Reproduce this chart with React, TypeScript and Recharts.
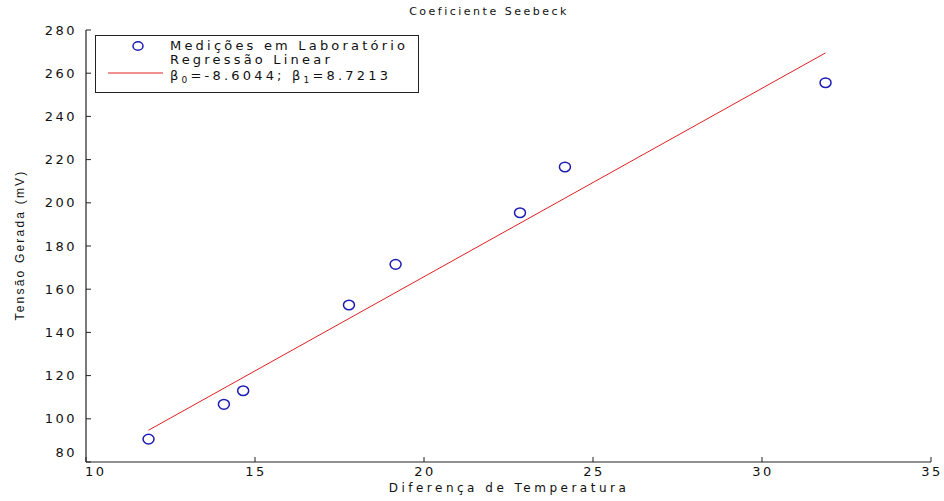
import React from 'react';
import { ScatterChart, Scatter, XAxis, YAxis } from 'recharts';

// dados
const tempDiff = [11.85, 14.08, 14.65, 17.78, 19.16, 22.84, 24.17, 31.88];
const tensao = [90.6, 106.7, 113.0, 152.7, 171.5, 195.4, 216.6, 255.6];
const fitX = [11.85, 31.88];
const fitY = [94.7, 269.4];
const xTicks = [10, 15, 20, 25, 30, 35];
const yTicks = [80, 100, 120, 140, 160, 180, 200, 220, 240, 260, 280];

const medicoes = tempDiff.map((x, i) => ({ x, y: tensao[i] }));
const regressao = fitX.map((x, i) => ({ x, y: fitY[i] }));

const FONT = '"DejaVu Sans", Arial, sans-serif';
const AXIS = '#222';
const BLUE = '#1c1cb4';
const RED = '#e02020';

const XTick = (props: any) => {
    const { x, y, payload, index } = props;
    return (
        <g>
            <line x1={x} y1={y} x2={x} y2={y - 5} stroke={AXIS} strokeWidth={1} />
            <text
                x={index === 0 ? x - 1 : x + 1}
                y={y + 4}
                textAnchor={index === 0 ? 'start' : 'middle'}
                dominantBaseline="hanging"
                fontSize={13}
                fontFamily={FONT}
                letterSpacing={2.5}
                fill="#111"
            >
                {payload.value}
            </text>
        </g>
    );
};

const YTick = (props: any) => {
    const { x, y, payload, index } = props;
    return (
        <g>
            <line x1={x} y1={y} x2={x + 5} y2={y} stroke={AXIS} strokeWidth={1} />
            <text
                x={x - 9}
                y={index === 0 ? y - 10 : y}
                textAnchor="end"
                dominantBaseline="central"
                fontSize={13}
                fontFamily={FONT}
                letterSpacing={2.5}
                fill="#111"
            >
                {payload.value}
            </text>
        </g>
    );
};

const Marker = (props: any) => (
    <ellipse cx={props.cx} cy={props.cy} rx={5.5} ry={4.8} fill="none" stroke={BLUE} strokeWidth={1.5} />
);

const NoMarker = () => <g />;

const LegendBox = () => (
    <div
        style={{
            position: 'absolute',
            left: 95,
            top: 35,
            width: 322,
            height: 56,
            border: `1px solid ${AXIS}`,
            background: '#fff',
            fontFamily: FONT,
            fontSize: 13,
            letterSpacing: 3.2,
            color: '#111',
        }}
    >
        <svg width={80} height={56} style={{ position: 'absolute', left: 0, top: 0 }}>
            <ellipse cx={42} cy={10} rx={5} ry={4.3} fill="none" stroke={BLUE} strokeWidth={1.5} />
            <line x1={12} y1={37} x2={67} y2={37} stroke={RED} strokeWidth={1} />
        </svg>
        <div style={{ position: 'absolute', left: 74, top: 2, lineHeight: '15px' }}>Medições em Laboratório</div>
        <div style={{ position: 'absolute', left: 74, top: 17, lineHeight: '14px' }}>Regressão Linear</div>
        <div style={{ position: 'absolute', left: 74, top: 33, lineHeight: '14px' }}>
            β<sub style={{ fontSize: 9, verticalAlign: '-3px' }}>0</sub>=-8.6044; β
            <sub style={{ fontSize: 9, verticalAlign: '-3px' }}>1</sub>=8.7213
        </div>
    </div>
);

export default function App() {
    return (
        <div style={{ position: 'absolute', left: 0, top: 0, width: 944, height: 501, background: '#fff' }}>
            <ScatterChart width={944} height={501} margin={{ top: 30, right: 13, bottom: 0, left: 0 }}>
                <XAxis
                    type="number"
                    dataKey="x"
                    domain={[10, 35]}
                    ticks={xTicks}
                    height={39}
                    tickSize={0}
                    tickMargin={0}
                    tickLine={false}
                    axisLine={{ stroke: AXIS, strokeWidth: 1.2 }}
                    tick={<XTick />}
                    allowDataOverflow
                />
                <YAxis
                    type="number"
                    dataKey="y"
                    domain={[80, 280]}
                    ticks={yTicks}
                    width={86}
                    tickSize={0}
                    tickMargin={0}
                    tickLine={false}
                    axisLine={{ stroke: AXIS, strokeWidth: 1.2 }}
                    tick={<YTick />}
                    allowDataOverflow
                />
                <Scatter
                    name="Regressão Linear"
                    data={regressao}
                    line={{ stroke: RED, strokeWidth: 1 }}
                    shape={<NoMarker />}
                    isAnimationActive={false}
                />
                <Scatter
                    name="Medições em Laboratório"
                    data={medicoes}
                    shape={<Marker />}
                    isAnimationActive={false}
                />
            </ScatterChart>
            <LegendBox />
            <div
                style={{
                    position: 'absolute',
                    left: 0,
                    width: 978,
                    top: 5,
                    textAlign: 'center',
                    fontFamily: FONT,
                    fontSize: 11,
                    letterSpacing: 2.5,
                    color: '#111',
                }}
            >
                Coeficiente Seebeck
            </div>
            <div
                style={{
                    position: 'absolute',
                    left: 0,
                    width: 1018,
                    top: 481,
                    textAlign: 'center',
                    fontFamily: FONT,
                    fontSize: 12,
                    letterSpacing: 3.5,
                    color: '#111',
                }}
            >
                Diferença de Temperatura
            </div>
            <div
                style={{
                    position: 'absolute',
                    left: 20,
                    top: 245,
                    transform: 'translate(-50%, -50%) rotate(-90deg)',
                    whiteSpace: 'nowrap',
                    fontFamily: '"Liberation Sans", Arial, sans-serif',
                    fontSize: 12,
                    letterSpacing: 2.2,
                    color: '#111',
                }}
            >
                Tensão Gerada (mV)
            </div>
        </div>
    );
}
